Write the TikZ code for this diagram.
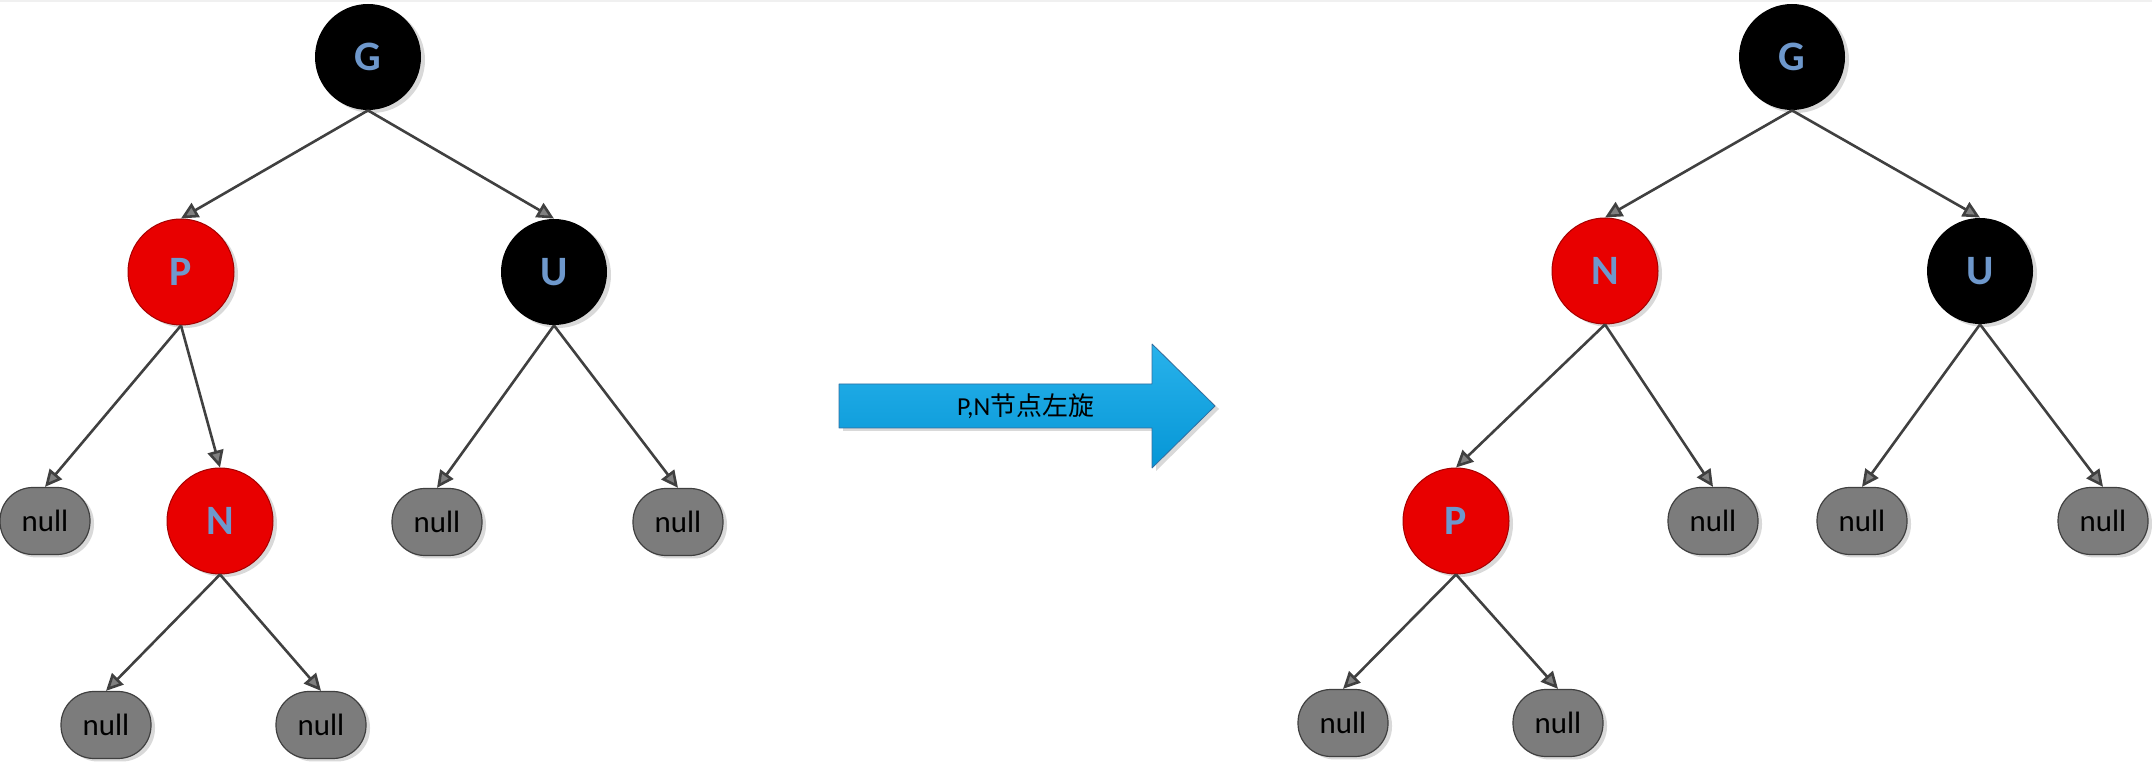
\documentclass[tikz,border=0pt]{standalone}
\usepackage{fontspec}
\setsansfont{Carlito}
\newfontfamily\cjk{Noto Sans CJK SC}
\usetikzlibrary{arrows.meta,shapes.geometric,shadows}
\definecolor{letterblue}{RGB}{110,152,204}
\definecolor{nodered}{RGB}{232,0,0}
\definecolor{nodeborder}{RGB}{165,0,0}
\definecolor{nullgray}{RGB}{124,124,124}
\definecolor{edgegray}{RGB}{64,64,64}
\definecolor{arrowlight}{RGB}{40,178,235}
\definecolor{arrowdark}{RGB}{6,150,214}
\definecolor{arrowedge}{RGB}{50,110,160}
\tikzset{
  treenode/.style={circle,minimum size=53bp,inner sep=0pt,text=letterblue,
    font=\sffamily\bfseries\fontsize{21}{21}\selectfont,
    drop shadow={fill=black!25,opacity=0.6,shadow xshift=2bp,shadow yshift=-1.5bp}},
  rednode/.style={treenode,fill=nodered,draw=nodeborder,line width=0.5bp},
  blacknode/.style={treenode,fill=black},
  nullnode/.style={rectangle,rounded corners=16.5bp,minimum width=45bp,minimum height=33.5bp,inner sep=0pt,
    fill=nullgray,draw=edgegray,line width=0.6bp,text=black,
    font=\sffamily\fontsize{15.5}{15.5}\selectfont,
    drop shadow={fill=black!25,opacity=0.6,shadow xshift=2bp,shadow yshift=-1.5bp}},
}
\begin{document}
\begin{tikzpicture}[>={Triangle[length=8.5bp,width=8bp,fill=gray]},line join=bevel,]
  \useasboundingbox (0bp,0bp) rectangle (1076bp,381bp);
  \fill[color=gray!12] (0bp,380bp) rectangle (1076bp,381bp);
%%
  % Node: G (left)
  \node[blacknode] (G1) at (184bp,352.5bp) {G};
  % Node: P (left)
  \node[rednode] (P1) at (90.5bp,245bp) {P};
  % Node: U (left)
  \node[blacknode] (U1) at (277bp,245bp) {U};
  % Node: N (left)
  \node[rednode] (N1) at (110bp,120.5bp) {N};
  % Node: null (left)
  \node[nullnode] (nl1) at (22.5bp,120.5bp) {null};
  \node[nullnode] (nl2) at (218.5bp,120bp) {null};
  \node[nullnode] (nl3) at (339bp,120bp) {null};
  \node[nullnode] (nl4) at (53bp,18.5bp) {null};
  \node[nullnode] (nl5) at (160.5bp,18.5bp) {null};
  % Node: G (right)
  \node[blacknode] (G2) at (896bp,352.5bp) {G};
  % Node: N (right)
  \node[rednode] (N2) at (802.5bp,245.5bp) {N};
  % Node: U (right)
  \node[blacknode] (U2) at (990bp,245.5bp) {U};
  % Node: P (right)
  \node[rednode] (P2) at (728bp,120.5bp) {P};
  % Node: null (right)
  \node[nullnode] (nr1) at (856.5bp,120.5bp) {null};
  \node[nullnode] (nr2) at (931bp,120.5bp) {null};
  \node[nullnode] (nr3) at (1051.5bp,120.5bp) {null};
  \node[nullnode] (nr4) at (671.5bp,19.5bp) {null};
  \node[nullnode] (nr5) at (779bp,19.5bp) {null};
%
  \begin{scope}[draw=edgegray,line width=1.3bp]
  % Edge: G -> P, G -> U (left)
  \draw [->] (G1.south) -- (P1.north);
  \draw [->] (G1.south) -- (U1.north);
  % Edge: P -> null, P -> N (left)
  \draw [->] (P1.south) -- (nl1.north);
  \draw [->] (P1.south) -- (N1.north);
  % Edge: U -> null (left)
  \draw [->] (U1.south) -- (nl2.north);
  \draw [->] (U1.south) -- (nl3.north);
  % Edge: N -> null (left)
  \draw [->] (N1.south) -- (nl4.north);
  \draw [->] (N1.south) -- (nl5.north);
  % Edge: G -> N, G -> U (right)
  \draw [->] (G2.south) -- (N2.north);
  \draw [->] (G2.south) -- (U2.north);
  % Edge: N -> P, N -> null (right)
  \draw [->] (N2.south) -- (P2.north);
  \draw [->] (N2.south) -- (nr1.north);
  % Edge: U -> null (right)
  \draw [->] (U2.south) -- (nr2.north);
  \draw [->] (U2.south) -- (nr3.north);
  % Edge: P -> null (right)
  \draw [->] (P2.south) -- (nr4.north);
  \draw [->] (P2.south) -- (nr5.north);
  \end{scope}
%
  % Block arrow: rotation
  \draw [top color=arrowlight,bottom color=arrowdark,draw=arrowedge,line width=0.4bp,
    drop shadow={fill=black!25,opacity=0.6,shadow xshift=2bp,shadow yshift=-1.5bp}]
    (419.5bp,189bp) -- (576bp,189bp) -- (576bp,209bp) -- (607.5bp,178bp)
    -- (576bp,147bp) -- (576bp,167bp) -- (419.5bp,167bp) -- cycle;
  \node (turn) at (512.75bp,178bp) {\fontsize{13}{13}\selectfont\sffamily P,N\cjk 节点左旋};
%
\end{tikzpicture}
\end{document}
